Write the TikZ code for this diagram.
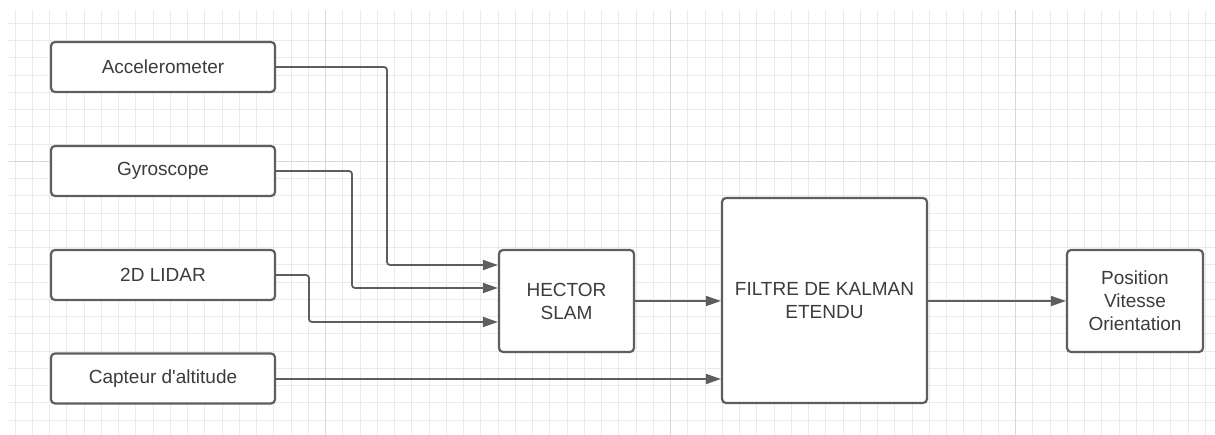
\documentclass[tikz,border=0pt]{standalone}
\usepackage{fontspec}
\setmainfont{Liberation Sans}
\usetikzlibrary{arrows.meta}
\definecolor{edge}{HTML}{5E5E5E}
\definecolor{txt}{HTML}{3C3C3C}
\definecolor{gridminor}{HTML}{EAEAEA}
\definecolor{gridmajor}{HTML}{D8D8D8}
\begin{document}
\begin{tikzpicture}[x=1pt,y=-1pt,
  blk/.style={draw=edge, line width=2.2pt, rounded corners=4pt, fill=white, text=txt,
    font=\fontsize{19}{23}\selectfont, align=center, inner sep=0pt},
  conn/.style={draw=edge, line width=1.8pt, rounded corners=3pt,
    -{Triangle[length=15pt,width=10pt]}},
  minorline/.style={draw=gridminor, line width=1pt},
  majorline/.style={draw=gridmajor, line width=1.2pt}]
\useasboundingbox (0,0) rectangle (1215,435);
\fill[white] (0,0) rectangle (1215,435);
% grid
\foreach \i in {0,...,69} {
  \pgfmathsetmacro{\gx}{15+\i*17.25}
  \draw[minorline] (\gx,10) -- (\gx,435);
}
\foreach \j in {0,...,23} {
  \pgfmathsetmacro{\gy}{23.3+\j*17.25}
  \draw[minorline] (8,\gy) -- (1215,\gy);
}
\foreach \gx in {325.5,670.5,1015.5} {
  \draw[majorline] (\gx,10) -- (\gx,435);
}
\draw[majorline] (8,161.3) -- (1215,161.3);
% blocks
\node[blk, minimum width=224pt, minimum height=50pt] (acc) at (163,67) {Accelerometer};
\node[blk, minimum width=224pt, minimum height=50pt] (gyr) at (163,171) {Gyroscope};
\node[blk, minimum width=224pt, minimum height=50pt] (lid) at (163,275) {2D LIDAR};
\node[blk, minimum width=224pt, minimum height=50pt] (cap) at (163,378.5) {Capteur d\textquotesingle altitude};
\node[blk, minimum width=135pt, minimum height=102pt] (hec) at (566.5,301) {HECTOR\\SLAM};
\node[blk, minimum width=205pt, minimum height=205pt] (ekf) at (824.5,300.5) {FILTRE DE KALMAN\\ETENDU};
\node[blk, minimum width=136pt, minimum height=102pt] (out) at (1135,301) {Position\\Vitesse\\Orientation};
% connectors
\coordinate (a1) at (387,265);
\coordinate (g1) at (352,288);
\coordinate (l1) at (309,322);
\coordinate (c1) at (cap.east |- 0,379);
\draw[conn] (acc.east) -| (a1) -- (hec.west |- a1);
\draw[conn] (gyr.east) -| (g1) -- (hec.west |- g1);
\draw[conn] (lid.east) -| (l1) -- (hec.west |- l1);
\draw[conn] (c1) -- (ekf.west |- c1);
\draw[conn] (hec.east) -- (ekf.west |- hec.east);
\draw[conn] (ekf.east |- out.west) -- (out.west);
\end{tikzpicture}
\end{document}
